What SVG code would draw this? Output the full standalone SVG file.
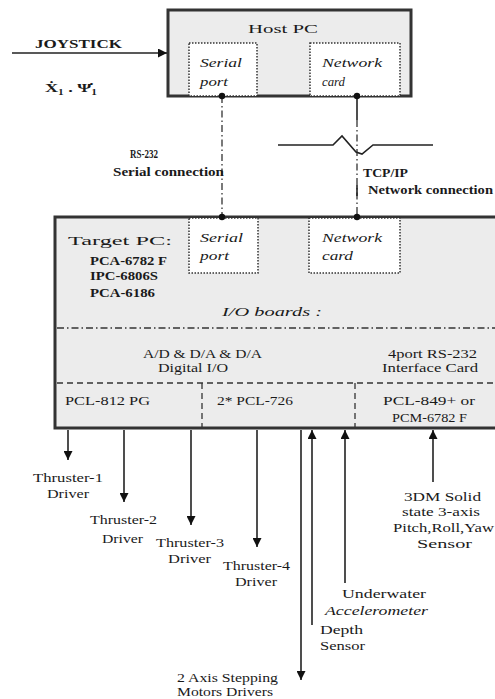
<svg xmlns="http://www.w3.org/2000/svg" width="495" height="699" viewBox="0 0 495 699">
<style>
text{font-family:"Liberation Serif","Times New Roman",serif;fill:#1a1a1a;font-size:13px}
.b{font-weight:bold}
.i{font-style:italic}
.box{fill:#ececec;stroke:#333;stroke-width:3}
.port{fill:#fff;stroke:#333;stroke-width:1.5;stroke-dasharray:1.5 1.5}
.ln{stroke:#222;stroke-width:1.6;fill:none}
.dd{stroke:#333;stroke-width:1.3;fill:none;stroke-dasharray:7 3 1.5 3}
.dash{stroke:#333;stroke-width:1.3;fill:none;stroke-dasharray:6 4}
</style>
<defs>
<marker id="ah" viewBox="0 0 10 10" refX="10" refY="5" markerWidth="9" markerHeight="9" markerUnits="userSpaceOnUse" orient="auto">
<path d="M0,0 L10,5 L0,10 z" fill="#111"/>
</marker>
</defs>

<g id="host-pc">
<rect class="box" x="168" y="10" width="243" height="86"/>
<text x="283" y="33" text-anchor="middle" font-size="15" textLength="70" lengthAdjust="spacingAndGlyphs">Host PC</text>
</g>
<g id="host-serial">
<rect class="port" x="189" y="43" width="68" height="53"/>
<text class="i" x="200" y="67" textLength="42" lengthAdjust="spacingAndGlyphs">Serial</text>
<text class="i" x="200" y="86" textLength="28" lengthAdjust="spacingAndGlyphs">port</text>
</g>
<g id="host-network">
<rect class="port" x="310" y="43" width="90" height="53"/>
<text class="i" x="322" y="67" textLength="60" lengthAdjust="spacingAndGlyphs">Network</text>
<text class="i" x="322" y="86" textLength="23" lengthAdjust="spacingAndGlyphs">card</text>
</g>

<g id="joystick">
<text class="b" x="35" y="48" textLength="87" lengthAdjust="spacingAndGlyphs">JOYSTICK</text>
<text class="b" x="45" y="92" font-size="12" textLength="52" lengthAdjust="spacingAndGlyphs">Ẋ₁ . Ψ̇₁</text>
</g>

<g id="target-pc">
<rect class="box" x="55" y="217" width="445" height="211"/>
<text x="68" y="245" font-size="19" textLength="104" lengthAdjust="spacingAndGlyphs">Target PC:</text>
<text class="b" x="90" y="265" font-size="11" textLength="77" lengthAdjust="spacingAndGlyphs">PCA-6782 F</text>
<text class="b" x="90" y="280" font-size="11" textLength="68" lengthAdjust="spacingAndGlyphs">IPC-6806S</text>
<text class="b" x="90" y="297" font-size="11" textLength="65" lengthAdjust="spacingAndGlyphs">PCA-6186</text>
<text class="i" x="222" y="316" font-size="15" textLength="100" lengthAdjust="spacingAndGlyphs">I/O boards :</text>
<line class="dd" x1="57" y1="328" x2="495" y2="328"/>
<text x="143" y="358" font-size="12" textLength="119" lengthAdjust="spacingAndGlyphs">A/D &amp; D/A &amp; D/A</text>
<text x="158" y="372" font-size="12" textLength="70" lengthAdjust="spacingAndGlyphs">Digital I/O</text>
<text x="388" y="358" font-size="12" textLength="89" lengthAdjust="spacingAndGlyphs">4port RS-232</text>
<text x="382" y="372" font-size="12" textLength="96" lengthAdjust="spacingAndGlyphs">Interface Card</text>
<line class="dash" x1="57" y1="383" x2="495" y2="383"/>
<line class="dash" x1="202" y1="383" x2="202" y2="427"/>
<line class="dash" x1="355" y1="383" x2="355" y2="427"/>
<text x="65" y="405" font-size="12" textLength="85" lengthAdjust="spacingAndGlyphs">PCL-812 PG</text>
<text x="217" y="405" font-size="12" textLength="76" lengthAdjust="spacingAndGlyphs">2* PCL-726</text>
<text x="383" y="405" font-size="12" textLength="92" lengthAdjust="spacingAndGlyphs">PCL-849+   or</text>
<text x="392" y="422" font-size="12" textLength="75" lengthAdjust="spacingAndGlyphs">PCM-6782 F</text>
</g>
<g id="target-serial">
<rect class="port" x="189" y="218" width="69" height="55"/>
<text class="i" x="200" y="242" textLength="43" lengthAdjust="spacingAndGlyphs">Serial</text>
<text class="i" x="200" y="260" textLength="29" lengthAdjust="spacingAndGlyphs">port</text>
</g>
<g id="target-network">
<rect class="port" x="309" y="218" width="91" height="55"/>
<text class="i" x="322" y="242" textLength="60" lengthAdjust="spacingAndGlyphs">Network</text>
<text class="i" x="322" y="260" textLength="31" lengthAdjust="spacingAndGlyphs">card</text>
</g>

<g id="connectors">
<line class="ln" x1="12" y1="53" x2="167" y2="53" marker-end="url(#ah)"/>
<line class="dd" x1="222" y1="96" x2="222" y2="217"/>
<line class="ln" x1="357" y1="96" x2="357" y2="120"/>
<line class="dd" x1="357" y1="120" x2="357" y2="217"/>
<line class="ln" x1="357" y1="185" x2="357" y2="196"/>
<polyline class="ln" stroke-width="1.2" points="278,145 333,145 342,136 356,152 362,154 373,145 433,145"/>
<circle cx="222" cy="96" r="3.2" fill="#111"/>
<circle cx="357" cy="96" r="3.2" fill="#111"/>
<circle cx="222" cy="217" r="3.2" fill="#111"/>
<circle cx="357" cy="217" r="3.2" fill="#111"/>

<line class="ln" x1="68" y1="430" x2="68" y2="460" marker-end="url(#ah)"/>
<line class="ln" x1="124" y1="430" x2="124" y2="502" marker-end="url(#ah)"/>
<line class="ln" x1="191" y1="430" x2="191" y2="525" marker-end="url(#ah)"/>
<line class="ln" x1="257" y1="430" x2="257" y2="547" marker-end="url(#ah)"/>
<line class="ln" x1="301" y1="430" x2="301" y2="680" marker-end="url(#ah)"/>
<line class="ln" x1="312" y1="625" x2="312" y2="430" marker-end="url(#ah)"/>
<line class="ln" stroke-width="1.1" x1="345" y1="583" x2="345" y2="430" marker-end="url(#ah)"/>
<line class="ln" x1="433" y1="482" x2="433" y2="430" marker-end="url(#ah)"/>
</g>

<g id="labels">
<text class="b" x="130" y="158" font-size="11" textLength="28" lengthAdjust="spacingAndGlyphs">RS-232</text>
<text class="b" x="113" y="176" font-size="11" textLength="111" lengthAdjust="spacingAndGlyphs">Serial connection</text>
<text class="b" x="363" y="177" font-size="11" textLength="45" lengthAdjust="spacingAndGlyphs">TCP/IP</text>
<text class="b" x="368" y="194" font-size="11" textLength="125" lengthAdjust="spacingAndGlyphs">Network connection</text>
</g>

<g id="thruster-1"><text x="33" y="482" textLength="70" lengthAdjust="spacingAndGlyphs">Thruster-1</text><text x="47" y="498" textLength="42" lengthAdjust="spacingAndGlyphs">Driver</text></g>
<g id="thruster-2"><text x="90" y="524" textLength="67" lengthAdjust="spacingAndGlyphs">Thruster-2</text><text x="102" y="543" textLength="41" lengthAdjust="spacingAndGlyphs">Driver</text></g>
<g id="thruster-3"><text x="156" y="547" textLength="68" lengthAdjust="spacingAndGlyphs">Thruster-3</text><text x="168" y="563" textLength="43" lengthAdjust="spacingAndGlyphs">Driver</text></g>
<g id="thruster-4"><text x="223" y="570" textLength="67" lengthAdjust="spacingAndGlyphs">Thruster-4</text><text x="235" y="586" textLength="42" lengthAdjust="spacingAndGlyphs">Driver</text></g>
<g id="stepping"><text x="177" y="682" font-size="11.5" textLength="101" lengthAdjust="spacingAndGlyphs">2 Axis Stepping</text><text x="177" y="696" font-size="11.5" textLength="96" lengthAdjust="spacingAndGlyphs">Motors Drivers</text></g>
<g id="depth"><text x="320" y="634" textLength="43" lengthAdjust="spacingAndGlyphs">Depth</text><text x="320" y="650" textLength="45" lengthAdjust="spacingAndGlyphs">Sensor</text></g>
<g id="accelerometer"><text x="342" y="598" textLength="84" lengthAdjust="spacingAndGlyphs">Underwater</text><text class="i" x="325" y="615" textLength="103" lengthAdjust="spacingAndGlyphs">Accelerometer</text></g>
<g id="sensor-3dm"><text x="404" y="501" textLength="77" lengthAdjust="spacingAndGlyphs">3DM Solid</text><text x="402" y="516" textLength="78" lengthAdjust="spacingAndGlyphs">state 3-axis</text><text x="393" y="532" textLength="101" lengthAdjust="spacingAndGlyphs">Pitch,Roll,Yaw</text><text x="417" y="548" textLength="55" lengthAdjust="spacingAndGlyphs">Sensor</text></g>
</svg>
